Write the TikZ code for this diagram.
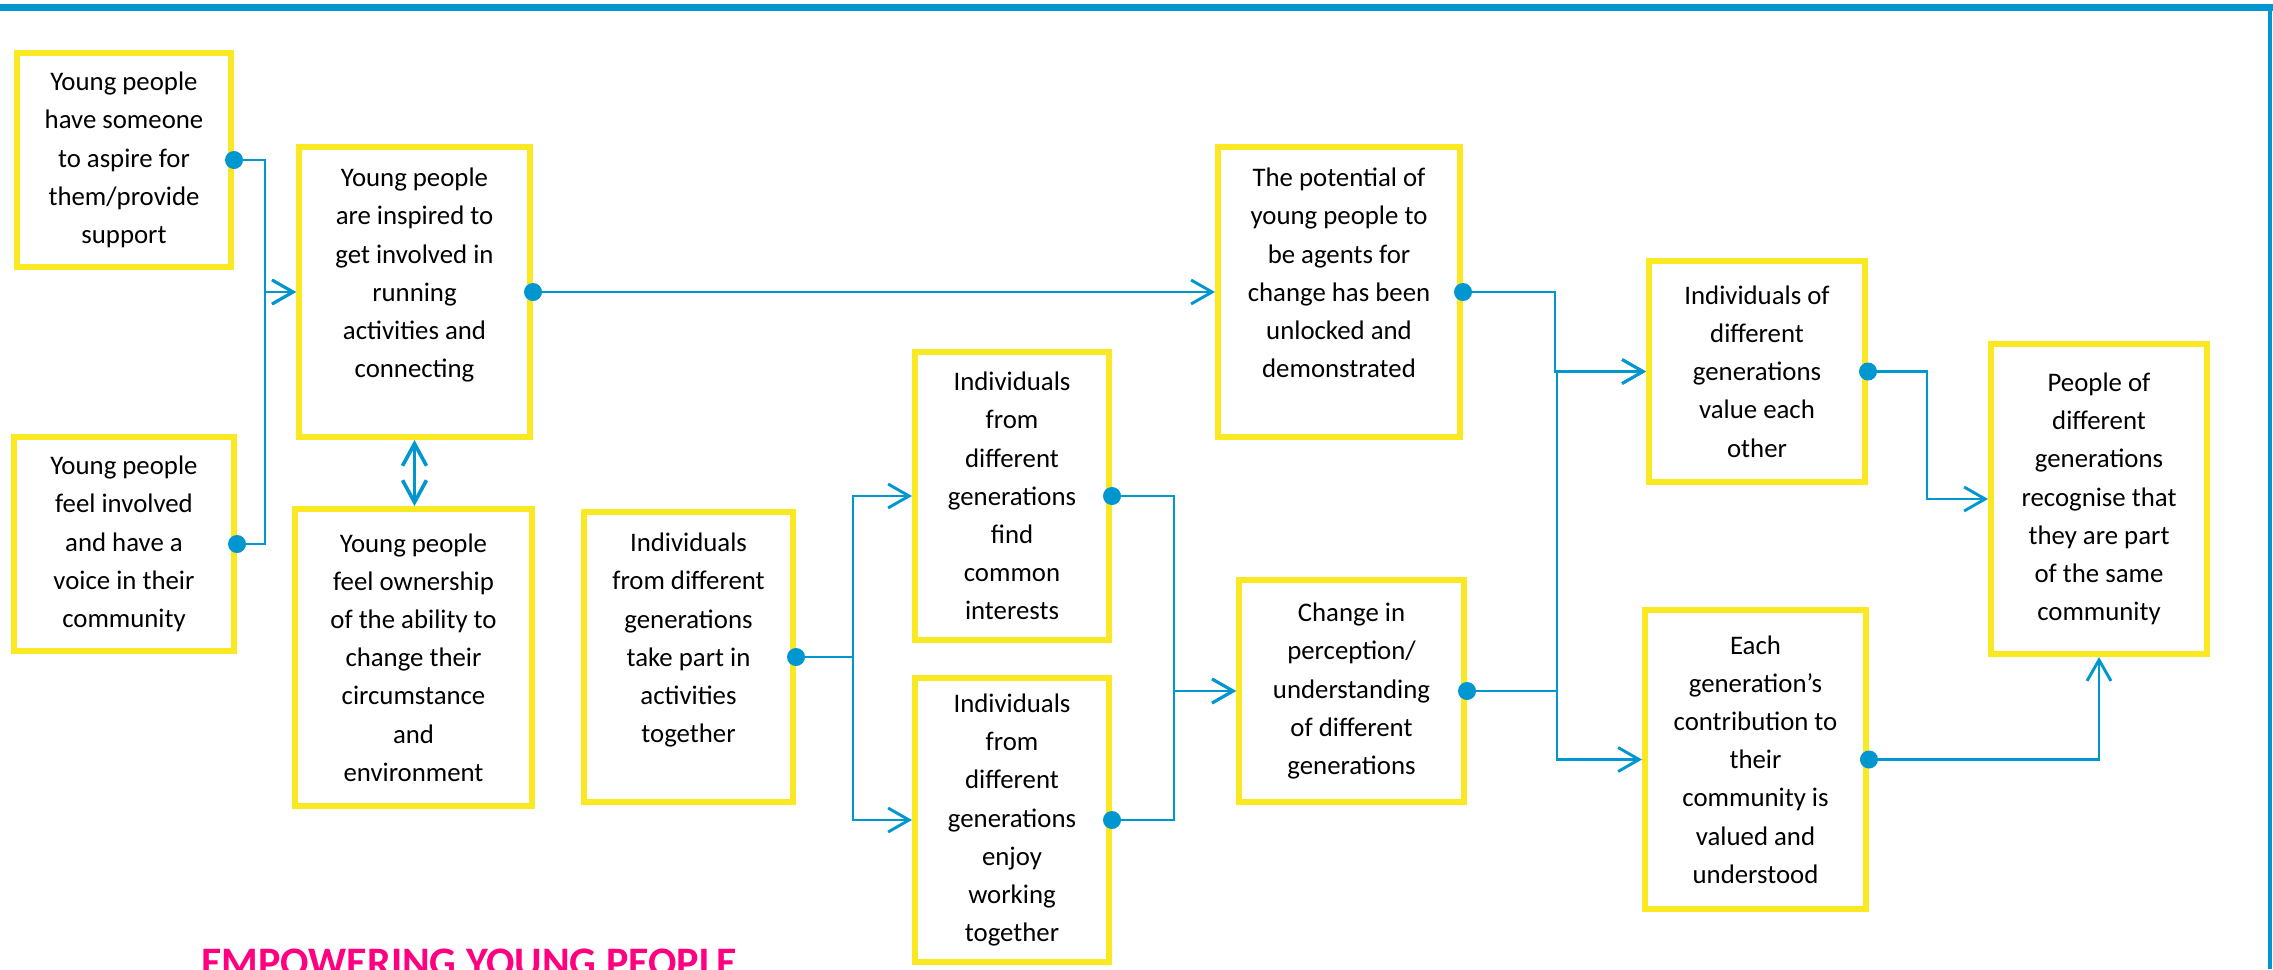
\documentclass[tikz,border=0pt]{standalone}
\usepackage{fontspec}
\setmainfont{Carlito}
\usetikzlibrary{arrows.meta}
\definecolor{boxyellow}{RGB}{250,232,35}
\definecolor{linkblue}{RGB}{0,150,207}
\definecolor{titlepink}{RGB}{255,0,128}
\begin{document}
\begin{tikzpicture}[x=0.5bp,y=-0.5bp,
  box/.style={draw=boxyellow, line width=3bp, align=center, inner sep=0pt,
    font=\fontsize{13.4bp}{19.1bp}\selectfont},
  conn/.style={draw=linkblue, line width=1.45bp, -{Straight Barb[length=10.5bp,width=12bp]}},
  dualarrow/.style={draw=linkblue, line width=1.8bp, {Straight Barb[length=11bp,width=12bp]}-{Straight Barb[length=11bp,width=12bp]}},
  joint/.style={fill=linkblue},
  frame/.style={draw=linkblue}]
\fill[white] (0,0) rectangle (2273,969);
\useasboundingbox (0,0) rectangle (2273,969);
% frame lines
\draw[frame, line width=3.5bp] (0,7) -- (2273,7);
\draw[frame, line width=2bp] (2270,7) -- (2270,969);

% boxes
\node[box, minimum width=107bp, minimum height=107bp] (A) at (124,160)
  {Young people\\have someone\\to aspire for\\them/provide\\support};
\node[box, minimum width=110bp, minimum height=107bp] (B) at (124,544)
  {Young people\\feel involved\\and have a\\voice in their\\community};
\node[box, minimum width=115.5bp, minimum height=145bp] (C) at (414.5,292)
  {Young people\\are inspired to\\get involved in\\running\\activities and\\connecting\\~};
\node[box, minimum width=118.5bp, minimum height=148.5bp] (D) at (413.5,657.5)
  {Young people\\feel ownership\\of the ability to\\change their\\circumstance\\and\\environment};
\node[box, minimum width=104.5bp, minimum height=145bp] (E) at (688.5,657)
  {Individuals\\from different\\generations\\take part in\\activities\\together\\~};
\node[box, minimum width=97bp, minimum height=144bp] (F) at (1012,496)
  {Individuals\\from\\different\\generations\\find\\common\\interests};
\node[box, minimum width=97bp, minimum height=142bp] (G) at (1012,820)
  {Individuals\\from\\different\\generations\\enjoy\\working\\together};
\node[box, minimum width=112.5bp, minimum height=111bp] (H) at (1351.5,691)
  {Change in\\perception/\\understanding\\of different\\generations};
\node[box, minimum width=121bp, minimum height=145bp] (I) at (1339,292)
  {The potential of\\young people to\\be agents for\\change has been\\unlocked and\\demonstrated\\~};
\node[box, minimum width=108bp, minimum height=110.5bp] (J) at (1757,371.5)
  {Individuals of\\different\\generations\\value each\\other};
\node[box, minimum width=110.5bp, minimum height=149.5bp] (K) at (1755.5,759.5)
  {Each\\generation’s\\contribution to\\their\\community is\\valued and\\understood};
\node[box, minimum width=108bp, minimum height=155bp] (L) at (2099,499)
  {People of\\different\\generations\\recognise that\\they are part\\of the same\\community};

% title
\node[anchor=base west, inner sep=0pt, text=titlepink,
  font=\fontsize{21bp}{25bp}\selectfont\bfseries] (T) at (201,976)
  {EMPOWERING YOUNG PEOPLE};

% connectors
\draw[conn] (A.east) -- ++(31,0) |- (C.west);
\draw[conn] (B.east) -- ++(28,0) |- (C.west);
\draw[conn] (C.east) -- (I.west);
\draw[dualarrow] (C.south) -- (C.south |- D.north);
\draw[conn] (E.east) -- ++(57,0) |- (F.west);
\draw[conn] (E.east) -- ++(57,0) |- (G.west);
\draw[conn] (F.east) -- ++(62,0) |- (H.west);
\draw[conn] (G.east) -- ++(62,0) |- (H.west);
\draw[conn] (I.east) -- ++(92,0) |- (J.west);
\draw[conn] (H.east) -- ++(90,0) |- (J.west);
\draw[conn] (H.east) -- ++(90,0) |- (K.west);
\draw[conn] (J.east) -- ++(59,0) |- (L.west);
\draw[conn] (K.east) -| (L.south);

% dots
\foreach \n in {A,B,C,E,F,G,H,I,J,K}
  \fill[joint] (\n.east) circle (4.5bp);
\end{tikzpicture}
\end{document}
